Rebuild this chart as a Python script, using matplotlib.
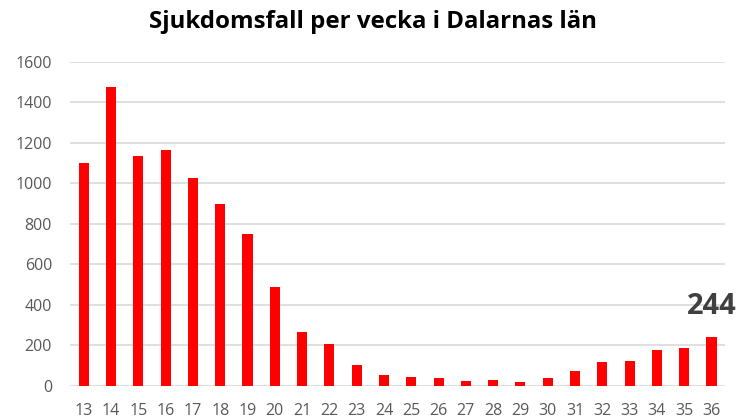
import matplotlib
matplotlib.use("Agg")
import matplotlib.pyplot as plt

# weekly cases, Dalarna
weeks = [13, 14, 15, 16, 17, 18, 19, 20, 21, 22, 23, 24,
         25, 26, 27, 28, 29, 30, 31, 32, 33, 34, 35, 36]
cases = [1100, 1475, 1138, 1163, 1025, 900, 748, 491, 264, 209, 105, 56,
         46, 41, 26, 31, 17, 41, 76, 116, 121, 175, 185, 244]
yticks = [0, 200, 400, 600, 800, 1000, 1200, 1400, 1600]

plt.rcParams["font.family"] = ["Open Sans", "DejaVu Sans"]

fig = plt.figure(figsize=(7.46, 4.19), dpi=100)
ax = fig.add_axes([0.094, 0.079, 0.878, 0.773])

x = list(range(len(weeks)))
ax.bar(x, cases, width=0.37, color="#ff0000", zorder=3)

ax.set_xlim(-0.5, len(weeks) - 0.5)
ax.set_ylim(0, 1600)
ax.set_yticks(yticks)
ax.set_xticks(x)
ax.set_xticklabels([str(w) for w in weeks])
ax.grid(axis="y", color="#d9d9d9", linewidth=1.2, zorder=0)
ax.tick_params(length=0, colors="#595959", labelsize=11.5)
ax.tick_params(axis="x", pad=12)
ax.tick_params(axis="y", pad=13)
for s in ax.spines.values():
    s.set_visible(False)

# label on last bar
ax.annotate(str(cases[-1]), (x[-1], cases[-1]), xytext=(0, 11),
            textcoords="offset points", ha="center", va="bottom",
            fontsize=21, fontweight="bold", color="#404040")

fig.text(0.5, 0.947, "Sjukdomsfall per vecka i Dalarnas län", ha="center",
         va="center", fontsize=17.3, fontweight="bold", color="#000000")

fig.savefig("out.png", dpi=100)
